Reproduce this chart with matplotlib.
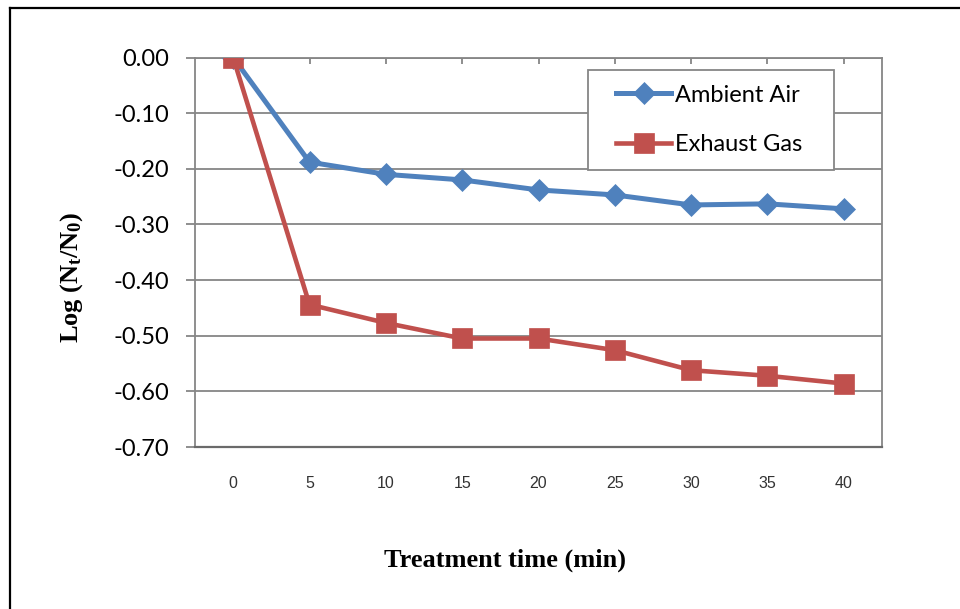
import matplotlib
matplotlib.use("Agg")
import matplotlib.pyplot as plt
from matplotlib.lines import Line2D
from matplotlib.patches import Rectangle

# data
times = [0, 5, 10, 15, 20, 25, 30, 35, 40]
ambient_air = [0.0, -0.188, -0.210, -0.220, -0.238, -0.247, -0.265, -0.263, -0.272]
exhaust_gas = [0.0, -0.444, -0.477, -0.505, -0.505, -0.526, -0.562, -0.572, -0.586]
yticks = [0.0, -0.1, -0.2, -0.3, -0.4, -0.5, -0.6, -0.7]

blue = '#4F81BD'
red = '#C0504D'
grid_gray = '#868686'
W, H = 960, 609

plt.rcParams['mathtext.default'] = 'regular'

fig = plt.figure(figsize=(W / 100, H / 100), dpi=100)
ax = fig.add_axes([195 / W, 1 - 447 / H, 687 / W, 389.5 / H])

pos = range(len(times))
ax.plot(pos, ambient_air, color=blue, lw=3.6, marker='D', ms=11,
        mec=blue, mew=0.5, label='Ambient Air', zorder=3)
ax.plot(pos, exhaust_gas, color=red, lw=3.3, marker='s', ms=14,
        mec=red, mew=0.5, label='Exhaust Gas', zorder=4)

ax.set_xlim(-0.5, len(times) - 0.5)
ax.set_ylim(-0.70, 0.0)
ax.set_yticks(yticks)
ax.set_yticklabels(['%.2f' % v for v in yticks])
ax.set_xticks(list(pos))
ax.set_xticklabels([str(t) for t in times])

ax.grid(axis='y', color=grid_gray, lw=1.3)
ax.set_axisbelow(True)
for side in ['left', 'right', 'top']:
    ax.spines[side].set_color(grid_gray)
    ax.spines[side].set_linewidth(1.3)
ax.spines['bottom'].set_color('#6a6a6a')
ax.spines['bottom'].set_linewidth(1.6)

ax.tick_params(axis='y', direction='out', length=6.5, width=1.3, color=grid_gray,
               pad=12, labelsize=17, labelcolor='black', labelfontfamily='Lato')
ax.tick_params(axis='x', direction='in', bottom=False, top=True, length=4.5,
               width=1.3, color=grid_gray, pad=21, labelsize=11.5,
               labelcolor='#333333', labelfontfamily='Liberation Sans')

# legend box drawn by hand, entries placed inside it
ax.add_patch(Rectangle((588 / W, 1 - 170 / H), 246 / W, 100 / H, transform=fig.transFigure,
                       facecolor='white', edgecolor=grid_gray, lw=1.3, zorder=5,
                       clip_on=False))
leg = ax.legend(loc='center left', bbox_to_anchor=(616 / W, 1 - 120 / H),
                bbox_transform=fig.transFigure, frameon=False,
                prop={'family': 'Lato', 'size': 17}, handlelength=2.33,
                labelspacing=1.22, borderpad=0, handletextpad=0.17,
                borderaxespad=0)
leg.set_zorder(6)

fig.text(505 / W, 1 - 560 / H, 'Treatment time (min)', ha='center', va='center',
         family='Liberation Serif', weight='bold', size=19)
fig.text(72 / W, 1 - 277 / H, 'Log (N$_t$/N$_0$)', ha='center', va='center',
         rotation=90, family='Liberation Serif', weight='bold', size=19)

# outer border of the chart area
fig.add_artist(Line2D([10 / W, 10 / W], [0, 1 - 8 / H], color='black', lw=1.6,
                      transform=fig.transFigure))
fig.add_artist(Line2D([10 / W, 1], [1 - 8 / H, 1 - 8 / H], color='black', lw=1.6,
                      transform=fig.transFigure))

fig.savefig('out.png', dpi=100)
